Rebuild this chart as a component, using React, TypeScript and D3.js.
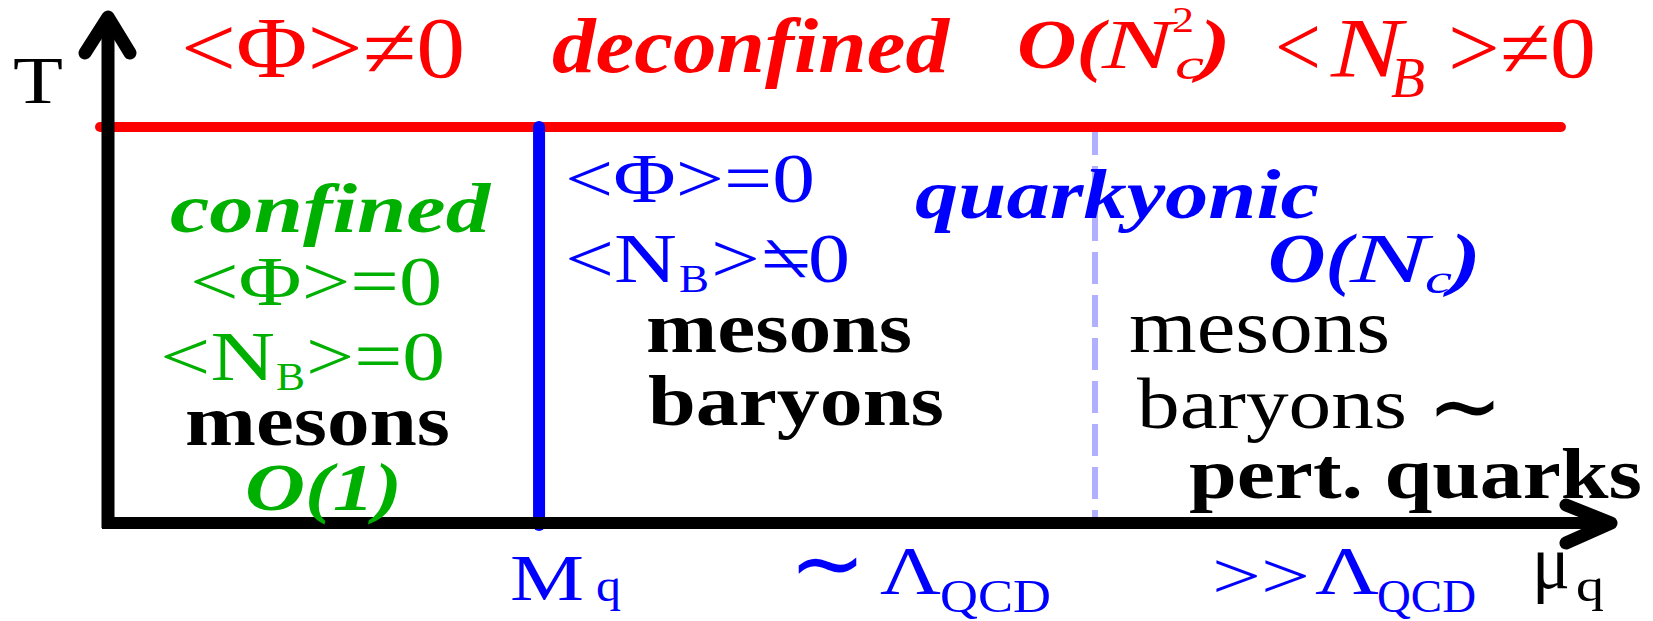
import React from "react";
import * as d3 from "d3";

// ---- data (phase-diagram boundaries, in axis units 0..10) ----
const muDomain = [0, 10];
const tDomain = [0, 10];
const deconfinementT = [7.826]; // horizontal red line (T_c)
const deconfinementMuRange = [-0.053, 9.667];
const quarkMassMu = [2.868]; // solid blue boundary M_q
const lambdaQcdMu = [6.567]; // dashed light-blue crossover

const topLabels = ["<Φ>≠0", "deconfined"];
const confinedLabels = ["confined", "<Φ>=0", "mesons", "O(1)"];
const quarkyonicLabels = ["<Φ>=0", "quarkyonic", "mesons", "baryons"];
const pertLabels = ["mesons", "baryons", "pert. quarks"];
const axisLabels = ["T", "μ", "M", "Λ", "QCD"];

const FONT = "Liberation Serif, Times New Roman, Times, serif";
const RED = "#ff0000";
const BLUE = "#0000ff";
const GREEN = "#00b000";
const LIGHTBLUE = "#b0b0ff";

type LP = {
  x: number;
  x2: number;
  y: number;
  size: number;
  fill?: string;
  bold?: boolean;
  italic?: boolean;
  family?: string;
  mirror?: boolean;
  children: React.ReactNode;
};

function L({ x, x2, y, size, fill = "#000", bold, italic, family, mirror, children }: LP) {
  const w = x2 - x;
  const st: React.CSSProperties = {
    fontFamily: family || FONT,
    fontSize: size,
    fontWeight: bold ? 700 : 400,
    fontStyle: italic ? "italic" : "normal",
  };
  const t = (
    <text x={mirror ? 0 : x} y={y} textLength={w} lengthAdjust="spacingAndGlyphs" fill={fill} style={st}>
      {children}
    </text>
  );
  if (mirror) return <g transform={`translate(${x2},0) scale(-1,1)`}>{t}</g>;
  return t;
}

export default function App() {
  const W = 1653;
  const H = 621;
  const x = d3.scaleLinear().domain(muDomain).range([108, 1611]);
  const y = d3.scaleLinear().domain(tDomain).range([523, 17]);

  const x0 = x(0);
  const y0 = y(0);
  const xEnd = x(10);
  const yEnd = y(10);
  const tc = y(deconfinementT[0]);
  const mq = x(quarkMassMu[0]);
  const lq = x(lambdaQcdMu[0]);

  const line = d3.line<[number, number]>();
  const yArrow = line([
    [x0 - 23, yEnd + 36],
    [x0, yEnd],
    [x0 + 22, yEnd + 36],
  ]);
  const xArrow = line([
    [xEnd - 45, y0 - 18],
    [xEnd, y0],
    [xEnd - 45, y0 + 20],
  ]);

  return (
    <svg width={W} height={H} style={{ position: "absolute", left: 0, top: 0, background: "#fff" }}>
      <rect x={0} y={0} width={W} height={H} fill="#fff" />

      {/* boundaries */}
      <line x1={lq} x2={lq} y1={tc - 4} y2={y0} stroke={LIGHTBLUE} strokeWidth={6} strokeDasharray="32 11" />
      <line
        x1={x(deconfinementMuRange[0])}
        x2={x(deconfinementMuRange[1])}
        y1={tc}
        y2={tc}
        stroke={RED}
        strokeWidth={10}
        strokeLinecap="round"
      />
      <line x1={mq} x2={mq} y1={tc} y2={y0 + 2} stroke={BLUE} strokeWidth={12} strokeLinecap="round" />

      {/* axes */}
      <line x1={x0} x2={x0} y1={y0 + 5} y2={yEnd + 2} stroke="#000" strokeWidth={13} />
      <line x1={x0 - 6} x2={xEnd - 2} y1={y0} y2={y0} stroke="#000" strokeWidth={12} />
      <path d={yArrow || ""} fill="none" stroke="#000" strokeWidth={13} strokeLinecap="round" strokeLinejoin="round" />
      <path d={xArrow || ""} fill="none" stroke="#000" strokeWidth={13} strokeLinecap="round" strokeLinejoin="round" />

      {/* axis labels */}
      <L x={13} x2={63} y={103} size={68}>{axisLabels[0]}</L>
      <L x={1532} x2={1570} y={588} size={76}>{axisLabels[1]}</L>
      <L x={1576} x2={1604} y={601} size={46}>q</L>

      <L x={510} x2={584} y={600} size={66} fill={BLUE}>{axisLabels[2]}</L>
      <L x={596} x2={621} y={601} size={46} fill={BLUE}>q</L>

      <L x={789} x2={866} y={595} size={94} fill={BLUE} family="DejaVu Sans, sans-serif">∼</L>
      <L x={880} x2={941} y={593} size={68} fill={BLUE}>{axisLabels[3]}</L>
      <L x={940} x2={1051} y={612} size={46} fill={BLUE}>{axisLabels[4]}</L>

      <L x={1212} x2={1310} y={598} size={66} fill={BLUE}>&gt;&gt;</L>
      <L x={1315} x2={1379} y={593} size={68} fill={BLUE}>{axisLabels[3]}</L>
      <L x={1377} x2={1476} y={612} size={46} fill={BLUE}>{axisLabels[4]}</L>

      {/* top (deconfined) row */}
      <L x={181} x2={465} y={77} size={86} fill={RED}>{topLabels[0]}</L>
      <L x={552} x2={949} y={72} size={78} fill={RED} bold italic>{topLabels[1]}</L>
      <L x={1017} x2={1104} y={68} size={70} fill={RED} bold italic>O(</L>
      <L x={1102} x2={1173} y={68} size={70} fill={RED} italic>N</L>
      <L x={1172} x2={1194} y={32} size={36} fill={RED}>2</L>
      <L x={1175} x2={1204} y={79} size={44} fill={RED} italic>c</L>
      <L x={1199} x2={1231} y={68} size={70} fill={RED} bold italic>)</L>
      <L x={1275} x2={1321} y={76} size={86} fill={RED}>&lt;</L>
      <L x={1331} x2={1402} y={77} size={84} fill={RED} italic>N</L>
      <L x={1391} x2={1425} y={97} size={56} fill={RED} italic>B</L>
      <L x={1448} x2={1596} y={77} size={86} fill={RED}>&gt;≠0</L>

      {/* confined region */}
      <L x={170} x2={490} y={232} size={70} fill={GREEN} bold italic>{confinedLabels[0]}</L>
      <L x={190} x2={442} y={305} size={70} fill={GREEN}>{confinedLabels[1]}</L>
      <L x={160} x2={275} y={380} size={70} fill={GREEN}>&lt;N</L>
      <L x={276} x2={305} y={390} size={40} fill={GREEN}>B</L>
      <L x={306} x2={445} y={380} size={70} fill={GREEN}>&gt;=0</L>
      <L x={185} x2={450} y={445} size={72} bold>{confinedLabels[2]}</L>
      <L x={245} x2={402} y={510} size={68} fill={GREEN} bold italic>{confinedLabels[3]}</L>

      {/* quarkyonic region */}
      <L x={565} x2={815} y={202} size={70} fill={BLUE}>{quarkyonicLabels[0]}</L>
      <L x={565} x2={677} y={282} size={70} fill={BLUE}>&lt;N</L>
      <L x={679} x2={709} y={292} size={40} fill={BLUE}>B</L>
      <L x={711} x2={760} y={282} size={70} fill={BLUE}>&gt;</L>
      <L x={761} x2={811} y={282} size={70} fill={BLUE} mirror>≠</L>
      <L x={808} x2={850} y={282} size={70} fill={BLUE}>0</L>
      <L x={915} x2={1319} y={218} size={70} fill={BLUE} bold italic>{quarkyonicLabels[1]}</L>
      <L x={646} x2={912} y={352} size={72} bold>{quarkyonicLabels[2]}</L>
      <L x={648} x2={944} y={425} size={72} bold>{quarkyonicLabels[3]}</L>

      {/* perturbative region */}
      <L x={1268} x2={1352} y={282} size={70} fill={BLUE} bold italic>O(</L>
      <L x={1350} x2={1428} y={282} size={70} fill={BLUE} italic>N</L>
      <L x={1425} x2={1452} y={293} size={42} fill={BLUE} italic>c</L>
      <L x={1450} x2={1481} y={282} size={70} fill={BLUE} bold italic>)</L>
      <L x={1129} x2={1390} y={352} size={76}>{pertLabels[0]}</L>
      <L x={1137} x2={1407} y={428} size={72}>{pertLabels[1]}</L>
      <L x={1427} x2={1503} y={438} size={94} family="DejaVu Sans, sans-serif">∼</L>
      <L x={1189} x2={1642} y={498} size={72} bold>{pertLabels[2]}</L>
    </svg>
  );
}
